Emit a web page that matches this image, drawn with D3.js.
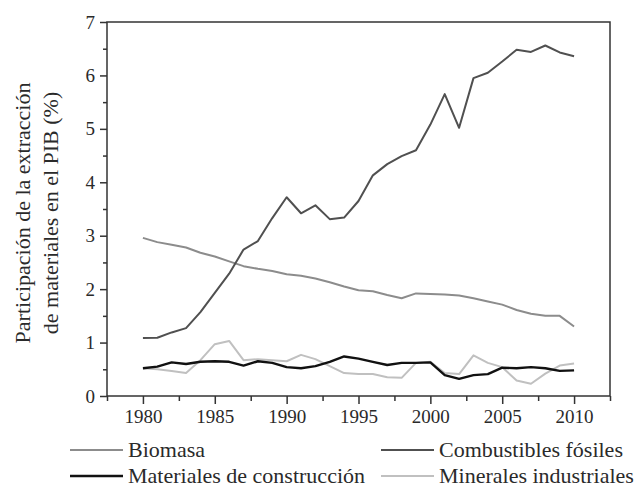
<!DOCTYPE html>
<html>
<head>
<meta charset="utf-8">
<script src="https://cdn.jsdelivr.net/npm/d3@7"></script>
<style>
  html, body { margin: 0; padding: 0; background: #fff; }
  svg { display: block; }
</style>
</head>
<body>
<svg id="chart" width="638" height="487"></svg>
<script>
const years = [1980,1981,1982,1983,1984,1985,1986,1987,1988,1989,1990,1991,1992,1993,1994,1995,1996,1997,1998,1999,2000,2001,2002,2003,2004,2005,2006,2007,2008,2009,2010];
const biomasa = [2.96,2.88,2.83,2.78,2.68,2.61,2.52,2.43,2.38,2.34,2.28,2.25,2.20,2.13,2.05,1.98,1.96,1.89,1.83,1.92,1.91,1.90,1.88,1.83,1.77,1.71,1.61,1.54,1.50,1.50,1.30];
const combustibles = [1.085,1.09,1.19,1.27,1.57,1.93,2.29,2.74,2.90,3.33,3.72,3.42,3.57,3.31,3.34,3.65,4.13,4.34,4.49,4.60,5.08,5.65,5.02,5.95,6.05,6.26,6.48,6.44,6.56,6.43,6.36];
const construccion = [0.52,0.55,0.63,0.60,0.64,0.65,0.64,0.57,0.65,0.62,0.54,0.52,0.56,0.64,0.74,0.70,0.64,0.58,0.62,0.62,0.63,0.39,0.32,0.39,0.41,0.53,0.52,0.54,0.52,0.47,0.48];
const minerales = [0.52,0.50,0.47,0.43,0.67,0.97,1.03,0.67,0.69,0.67,0.65,0.77,0.69,0.56,0.43,0.41,0.41,0.35,0.34,0.62,0.64,0.43,0.41,0.76,0.62,0.54,0.29,0.23,0.42,0.57,0.61];
const xMajorTicks = [1980,1985,1990,1995,2000,2005,2010];
const xMinorTicks = [1977.5,1982.5,1987.5,1992.5,1997.5,2002.5,2007.5,2012.5];
const yMajorTicks = [0,1,2,3,4,5,6,7];
const yMinorTicks = [0.5,1.5,2.5,3.5,4.5,5.5,6.5];
const seriesNames = ["Biomasa","Combustibles fósiles","Materiales de construcción","Minerales industriales"];
const yLabelLines = ["Participación de la extracción","de materiales en el PIB (%)"];

const series = [
  {name: seriesNames[0], values: biomasa, color: "#8c8c8c", width: 2},
  {name: seriesNames[1], values: combustibles, color: "#505050", width: 2},
  {name: seriesNames[2], values: construccion, color: "#111111", width: 2.4},
  {name: seriesNames[3], values: minerales, color: "#c0c0c0", width: 2}
];

const font = "'Liberation Serif', 'Times New Roman', serif";
const textColor = "#2a2a2a";
const axisColor = "#333";

const svg = d3.select("#chart");
const mLeft = 107, mRight = 610, mTop = 22, mBottom = 396;
const x = d3.scaleLinear().domain([1977.5, 2012.5]).range([mLeft, mRight]);
const y = d3.scaleLinear().domain([0, 7]).range([mBottom, mTop]);

// lines
const line = d3.line().x((d, i) => x(years[i])).y(d => y(d));
const drawOrder = [0, 3, 2, 1];
drawOrder.forEach(k => {
  const s = series[k];
  svg.append("path")
    .datum(s.values)
    .attr("d", line)
    .attr("fill", "none")
    .attr("stroke", s.color)
    .attr("stroke-width", s.width)
    .attr("stroke-linejoin", "round");
});

// frame
svg.append("rect")
  .attr("x", mLeft).attr("y", mTop)
  .attr("width", mRight - mLeft).attr("height", mBottom - mTop)
  .attr("fill", "none").attr("stroke", axisColor).attr("stroke-width", 1.5);

// x axis
const xAxisMajor = d3.axisBottom(x).tickValues(xMajorTicks).tickSize(8).tickPadding(6).tickFormat(d3.format("d"));
const gx = svg.append("g").attr("transform", `translate(0,${mBottom})`).call(xAxisMajor);
gx.select(".domain").remove();
gx.selectAll(".tick line").attr("stroke", axisColor).attr("stroke-width", 1.5);
gx.selectAll(".tick text").attr("font-family", font).attr("font-size", 19).attr("fill", textColor);
const xAxisMinor = d3.axisBottom(x).tickValues(xMinorTicks).tickSize(5).tickFormat("");
const gx2 = svg.append("g").attr("transform", `translate(0,${mBottom})`).call(xAxisMinor);
gx2.select(".domain").remove();
gx2.selectAll(".tick line").attr("stroke", axisColor).attr("stroke-width", 1.5);

// y axis
const yAxisMajor = d3.axisLeft(y).tickValues(yMajorTicks).tickSize(7).tickPadding(5).tickFormat(d3.format("d"));
const gy = svg.append("g").attr("transform", `translate(${mLeft},0)`).call(yAxisMajor);
gy.select(".domain").remove();
gy.selectAll(".tick line").attr("stroke", axisColor).attr("stroke-width", 1.5);
gy.selectAll(".tick text").attr("font-family", font).attr("font-size", 19).attr("fill", textColor);
const yAxisMinor = d3.axisLeft(y).tickValues(yMinorTicks).tickSize(4).tickFormat("");
const gy2 = svg.append("g").attr("transform", `translate(${mLeft},0)`).call(yAxisMinor);
gy2.select(".domain").remove();
gy2.selectAll(".tick line").attr("stroke", axisColor).attr("stroke-width", 1.5);

// y label
const yl = svg.append("text")
  .attr("transform", `translate(30,${(mTop + mBottom) / 2 + 4}) rotate(-90)`)
  .attr("text-anchor", "middle")
  .attr("font-family", font).attr("font-size", 22).attr("fill", textColor);
yl.append("tspan").attr("x", 0).attr("dy", 0).text(yLabelLines[0]);
yl.append("tspan").attr("x", 0).attr("dy", 28).text(yLabelLines[1]);

// legend
const legendPos = [
  {lx: 70, ty: 450}, {lx: 381, ty: 450},
  {lx: 70, ty: 476}, {lx: 381, ty: 476}
];
series.forEach((s, i) => {
  const p = legendPos[i];
  svg.append("line")
    .attr("x1", p.lx).attr("x2", p.lx + 53)
    .attr("y1", p.ty).attr("y2", p.ty)
    .attr("stroke", s.color).attr("stroke-width", s.width);
  svg.append("text")
    .attr("x", p.lx + 58).attr("y", p.ty)
    .attr("dy", "0.33em")
    .attr("font-family", font).attr("font-size", 22).attr("fill", textColor)
    .text(s.name);
});
</script>
</body>
</html>
